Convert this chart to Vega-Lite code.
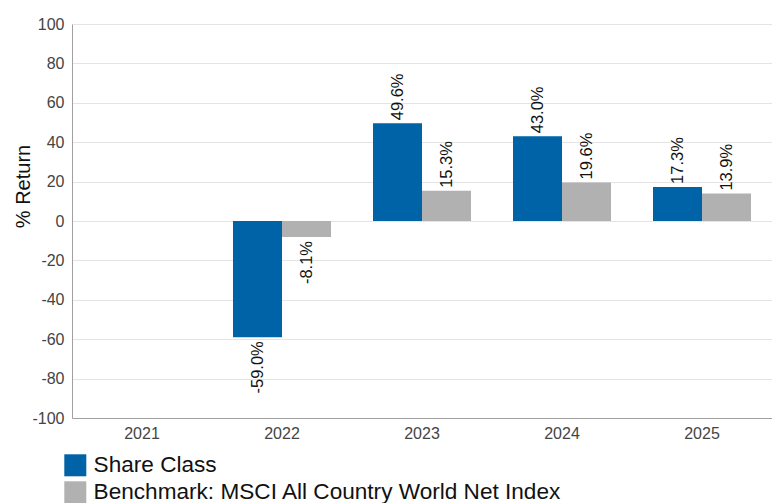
{
  "$schema": "https://vega.github.io/schema/vega-lite/v6.json",
  "width": 700,
  "height": 394,
  "autosize": "none",
  "padding": {"left": 72, "top": 24, "right": 0, "bottom": 85},
  "background": "white",
  "config": {
    "font": "Liberation Sans",
    "view": {"stroke": null}
  },
  "data": {
    "values": [
      {"year": "2022", "series": "Share Class", "value": -59.0},
      {"year": "2022", "series": "Benchmark: MSCI All Country World Net Index", "value": -8.1},
      {"year": "2023", "series": "Share Class", "value": 49.6},
      {"year": "2023", "series": "Benchmark: MSCI All Country World Net Index", "value": 15.3},
      {"year": "2024", "series": "Share Class", "value": 43.0},
      {"year": "2024", "series": "Benchmark: MSCI All Country World Net Index", "value": 19.6},
      {"year": "2025", "series": "Share Class", "value": 17.3},
      {"year": "2025", "series": "Benchmark: MSCI All Country World Net Index", "value": 13.9}
    ]
  },
  "transform": [
    {"calculate": "(datum.value < 0 ? '-' : '') + format(abs(datum.value), '.1f') + '%'", "as": "label"}
  ],
  "encoding": {
    "x": {
      "field": "year",
      "type": "nominal",
      "scale": {"domain": ["2021", "2022", "2023", "2024", "2025"], "paddingInner": 0.3, "paddingOuter": 0.15},
      "axis": {
        "title": null,
        "labelAngle": 0,
        "labelFontSize": 16,
        "labelColor": "#444444",
        "labelPadding": 7,
        "ticks": false,
        "domainColor": "#a0a0a0",
        "grid": false
      }
    },
    "xOffset": {
      "field": "series",
      "type": "nominal",
      "sort": ["Share Class", "Benchmark: MSCI All Country World Net Index"]
    },
    "y": {
      "field": "value",
      "type": "quantitative",
      "scale": {"domain": [-100, 100], "nice": false},
      "axis": {
        "title": "% Return",
        "titleFontSize": 20,
        "titleFontWeight": "normal",
        "titleColor": "#111111",
        "titleX": -43,
        "titleY": 162,
        "titleBaseline": "alphabetic",
        "titleAngle": -90,
        "titleAlign": "center",
        "values": [-100, -80, -60, -40, -20, 0, 20, 40, 60, 80, 100],
        "labelExpr": "(datum.value < 0 ? '-' : '') + abs(datum.value)",
        "labelFontSize": 16,
        "labelColor": "#444444",
        "labelPadding": 8,
        "ticks": false,
        "domainColor": "#a0a0a0",
        "gridColor": "#e4e4e4"
      }
    }
  },
  "layer": [
    {
      "mark": {"type": "bar"},
      "encoding": {
        "color": {
          "field": "series",
          "type": "nominal",
          "sort": ["Share Class", "Benchmark: MSCI All Country World Net Index"],
          "scale": {"domain": ["Share Class", "Benchmark: MSCI All Country World Net Index"], "range": ["#0062a7", "#b1b1b1"]},
          "legend": {
            "title": null,
            "orient": "none",
            "legendX": -8,
            "legendY": 430,
            "direction": "vertical",
            "symbolType": "square",
            "symbolSize": 484,
            "symbolStrokeWidth": 0,
            "symbolOpacity": 1,
            "labelFontSize": 22.6,
            "labelColor": "#111111",
            "labelOffset": 7,
            "rowPadding": 4,
            "labelLimit": 0
          }
        }
      }
    },
    {
      "transform": [{"filter": "datum.value >= 0"}],
      "mark": {"type": "text", "angle": 270, "align": "left", "baseline": "middle", "dx": 3, "fontSize": 16.5, "color": "#111111"},
      "encoding": {"text": {"field": "label"}}
    },
    {
      "transform": [{"filter": "datum.value < 0"}],
      "mark": {"type": "text", "angle": 270, "align": "right", "baseline": "middle", "dx": -4, "fontSize": 16.5, "color": "#111111"},
      "encoding": {"text": {"field": "label"}}
    }
  ]
}
